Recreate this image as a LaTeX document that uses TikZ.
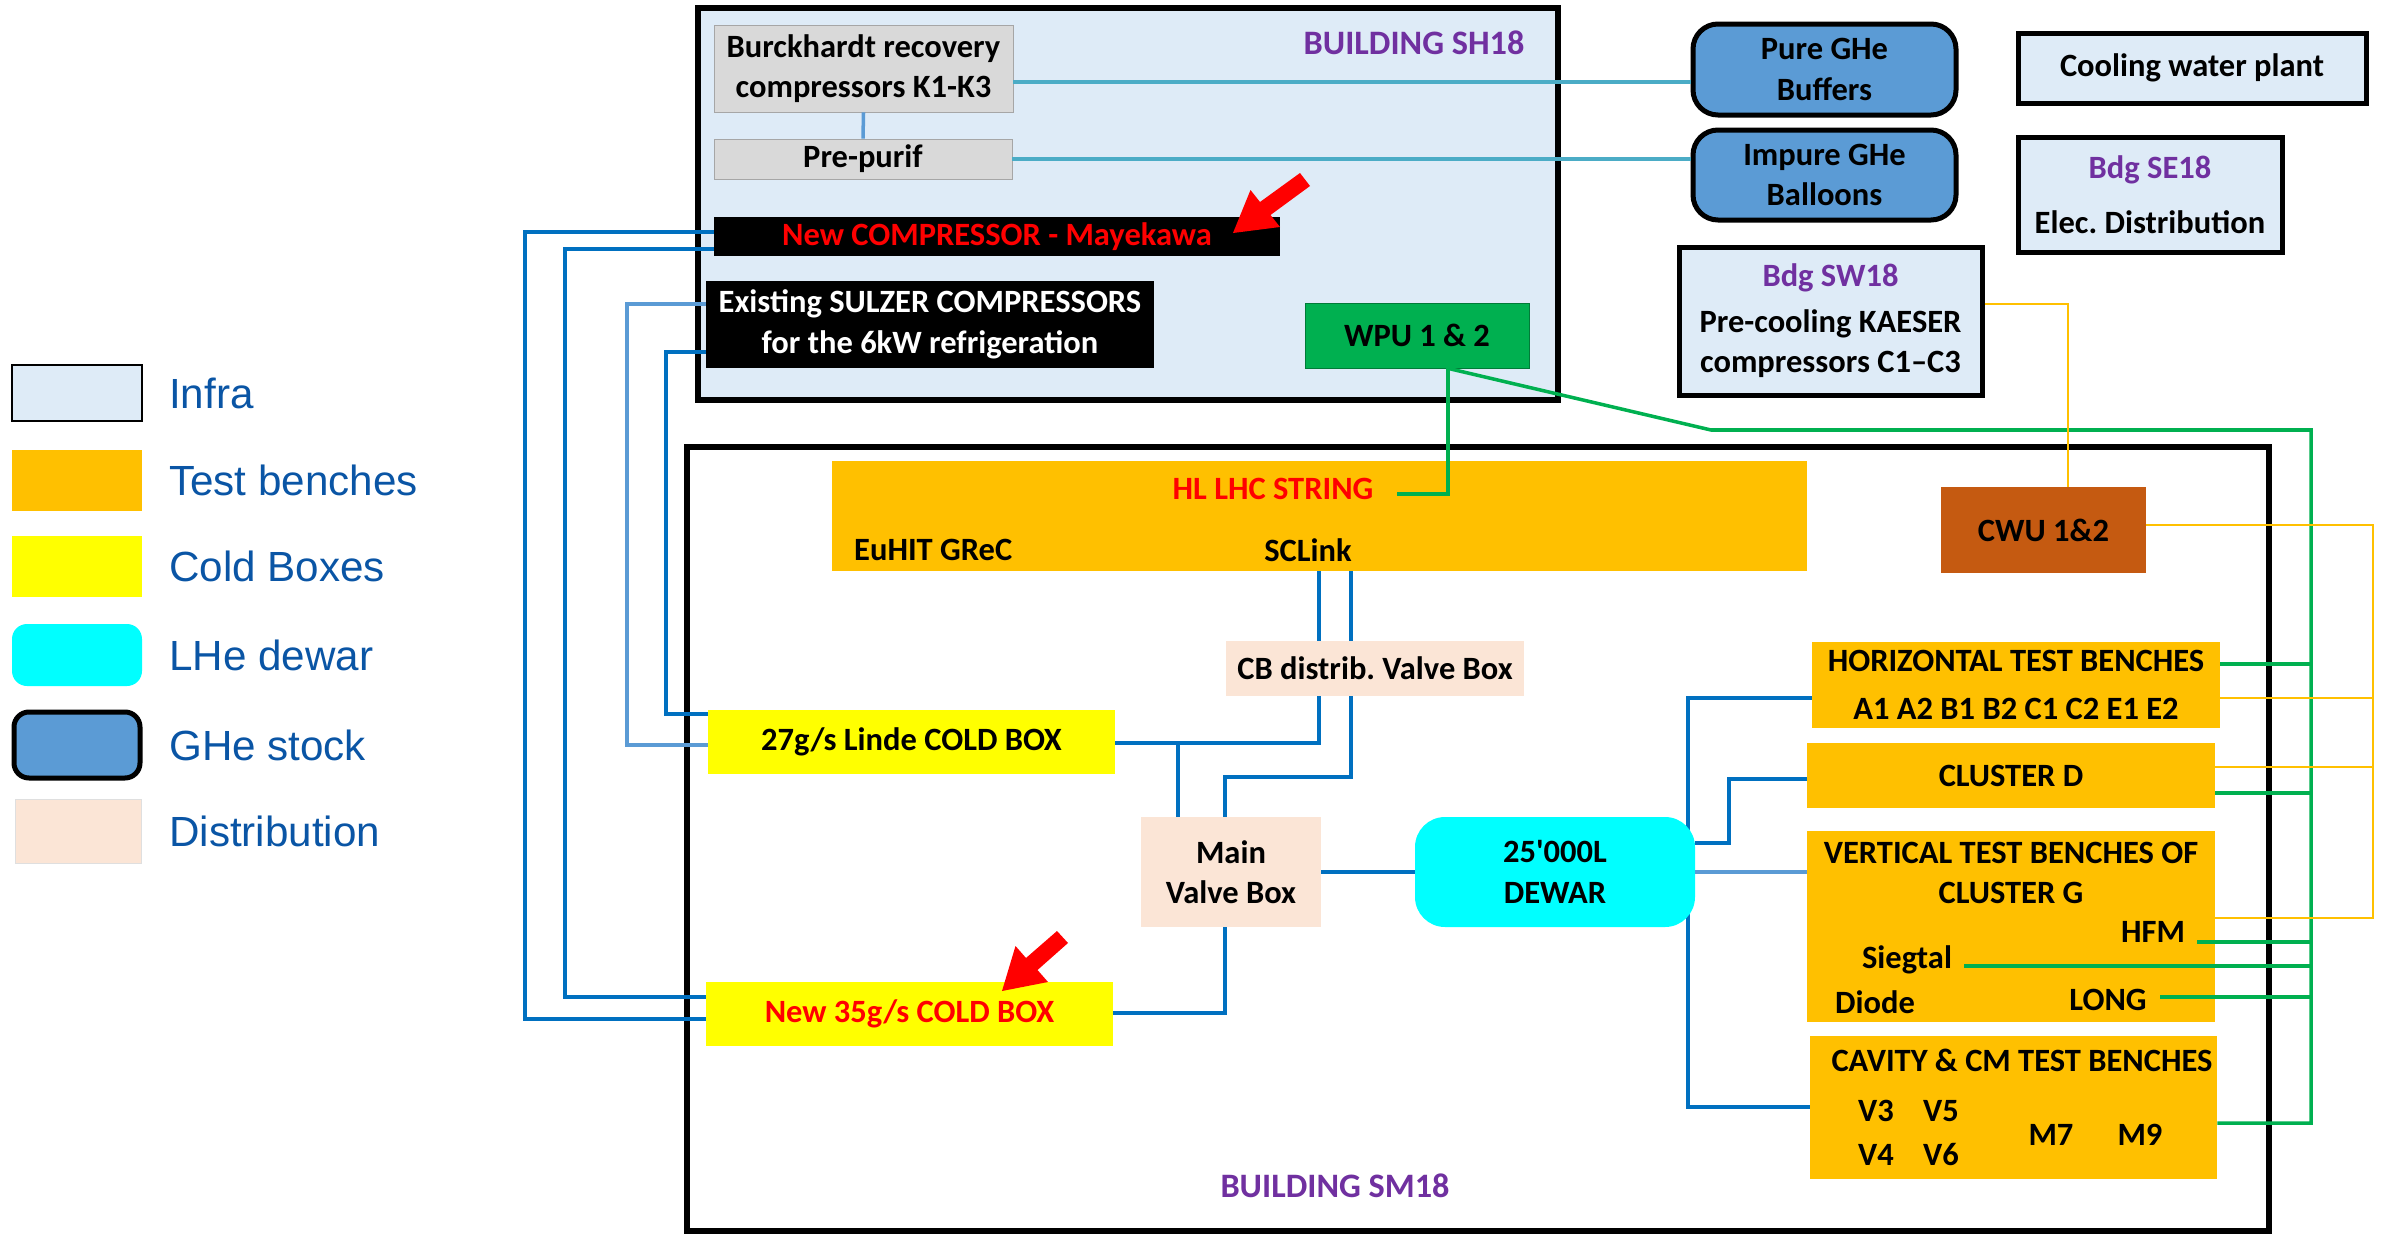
\documentclass[tikz,border=0pt]{standalone}
\usepackage{fontspec}
\setmainfont{Carlito}
\newfontfamily\legendfont{Liberation Sans}
\usetikzlibrary{calc}
\frenchspacing

\definecolor{infrablue}{RGB}{222,235,247}
\definecolor{benchorange}{RGB}{255,192,0}
\definecolor{cbyellow}{RGB}{255,255,0}
\definecolor{lhecyan}{RGB}{0,255,255}
\definecolor{gheblue}{RGB}{91,155,213}
\definecolor{distpeach}{RGB}{251,229,214}
\definecolor{bdgpurple}{RGB}{112,48,160}
\definecolor{wpugreen}{RGB}{0,176,80}
\definecolor{cwubrown}{RGB}{197,90,17}
\definecolor{pipeblue}{RGB}{0,112,192}
\definecolor{pipelight}{RGB}{91,155,213}
\definecolor{gasteal}{RGB}{75,172,198}
\definecolor{legblue}{RGB}{10,85,165}
\definecolor{boxgrey}{RGB}{217,217,217}

\begin{document}
\begin{tikzpicture}[x=0.2mm,y=-0.2mm,
  font=\bfseries\fontsize{18.5}{23}\selectfont,
  wh/.style 2 args={minimum width=#1*0.2mm,minimum height=#2*0.2mm,inner sep=0pt,align=center},
  bldg/.style={draw=black,line width=1.1mm},
  infrabox/.style={draw=black,line width=1mm,fill=infrablue},
  stock/.style={draw=black,line width=1mm,fill=gheblue,rounded corners=5mm},
  bldglbl/.style={text=bdgpurple,font=\bfseries\fontsize{19.5}{23}\selectfont},
  legtxt/.style={anchor=west,text=legblue,font=\legendfont\mdseries\fontsize{24}{28}\selectfont},
  pipe/.style={draw=pipeblue,line width=2pt},
  gasline/.style={draw=gasteal,line width=2pt},
  water/.style={draw=wpugreen,line width=2pt},
  cool/.style={draw=benchorange,line width=1.5pt}]
\useasboundingbox (0,0) rectangle (2387,1234);

% legend
\node[wh={130}{56},fill=infrablue,draw=black,line width=0.6pt] (leginfra) at (77,393) {};
\node[wh={130}{61},fill=benchorange] (legbench) at (77,480.5) {};
\node[wh={130}{61},fill=cbyellow] (legcold) at (77,566.5) {};
\node[wh={130}{62},fill=lhecyan,rounded corners=3mm] (leglhe) at (77,655) {};
\node[wh={126}{66},stock,rounded corners=3mm] (legghe) at (77,745) {};
\node[wh={126}{64},fill=distpeach,draw=gray!25] (legdist) at (78,831) {};
\node[legtxt] (tinfra) at (163,393) {Infra};
\node[legtxt] (tbench) at (163,480.5) {Test benches};
\node[legtxt] (tcold) at (163,566.5) {Cold Boxes};
\node[legtxt] (tlhe) at (163,655) {LHe dewar};
\node[legtxt] (tghe) at (163,745) {GHe stock};
\node[legtxt] (tdist) at (163,831) {Distribution};

% buildings
\node[wh={860}{392},bldg,fill=infrablue] (sh18) at (1128,204) {};
\node[wh={1582}{784},bldg,fill=white] (sm18) at (1478,839) {};
\node[bldglbl] (lblsh18) at (1414,43) {BUILDING SH18};
\node[bldglbl] (lblsm18) at (1335,1186) {BUILDING SM18};

% SH18 content
\node[wh={299}{87},fill=boxgrey,draw=gray!70] (burck) at (863.5,68.5) {Burckhardt recovery\\compressors K1-K3};
\node[wh={298}{40},fill=boxgrey,draw=gray!70] (prepurif) at (863,159) {Pre-purif};
\node[wh={566}{39},fill=black,text=red] (newcomp) at (997,236.5) {New COMPRESSOR - Mayekawa};
\node[wh={448}{87},fill=black,text=white] (sulzer) at (930,324.5) {Existing SULZER COMPRESSORS\\for the 6kW refrigeration};
\node[wh={224}{65},fill=wpugreen,draw=wpugreen!70!black] (wpu) at (1417,335.5) {WPU 1 \& 2};

% outside
\node[wh={263}{91},stock] (pure) at (1824.5,69.5) {Pure GHe\\Buffers};
\node[wh={263}{90},stock] (impure) at (1824.5,175) {Impure GHe\\Balloons};
\node[wh={348}{70},infrabox] (cwp) at (2192,68) {Cooling water plant};
\node[wh={264}{115},infrabox] (se18) at (2150,194.5) {\textcolor{bdgpurple}{Bdg SE18}\\[3mm]Elec. Distribution};
\node[wh={303}{148},infrabox] (sw18) at (1830.5,321) {\textcolor{bdgpurple}{Bdg SW18}\\[1mm]Pre-cooling KAESER\\compressors C1--C3};

% SM18 content
\node[wh={975}{110},fill=benchorange] (hllhc) at (1319.5,516) {};
\node[text=red] (hltxt) at (1273,489) {HL LHC STRING};
\node[anchor=west] (euhit) at (848,550) {EuHIT GReC};
\node (sclink) at (1308,550) {SCLink};
\node[wh={298}{55},fill=distpeach] (cbvb) at (1375,668.5) {CB distrib. Valve Box};
\node[wh={407}{64},fill=cbyellow] (linde) at (911.5,742) {27g/s Linde COLD BOX};
\node[wh={407}{64},fill=cbyellow,text=red] (newcb) at (909.5,1014) {New 35g/s COLD BOX};
\node[wh={180}{110},fill=distpeach] (mainvb) at (1231,872) {Main\\Valve Box};
\node[wh={205}{86},fill=cwubrown] (cwu) at (2043.5,530) {CWU 1\&2};
\node[wh={408}{86},fill=benchorange] (htb) at (2016,685) {HORIZONTAL TEST BENCHES\\[1.5mm]A1 A2 B1 B2 C1 C2 E1 E2};
\node[wh={408}{65},fill=benchorange] (clud) at (2011,775.5) {CLUSTER D};
\node[wh={408}{191},fill=benchorange] (vtb) at (2011,926.5) {};
\node[align=center] (vtbtxt) at (2011,873) {VERTICAL TEST BENCHES OF\\CLUSTER G};
\node (hfm) at (2153,932) {HFM};
\node (siegtal) at (1907,960) {Siegtal};
\node (diode) at (1875,1002) {Diode};
\node (long) at (2108,1000) {LONG};
\node[wh={407}{143},fill=benchorange] (cavity) at (2013.5,1107.5) {};
\node (cavtxt) at (2022,1060) {CAVITY \& CM TEST BENCHES};
\node (v3) at (1876,1111) {V3};
\node (v5) at (1941,1111) {V5};
\node (v4) at (1876,1155) {V4};
\node (v6) at (1941,1155) {V6};
\node (m7) at (2051,1135) {M7};
\node (m9) at (2140,1135) {M9};

% dewar line runs behind the dewar
\draw[pipe] (htb.west |- 0,698) -| (1688,1107) -- (cavity.west |- 0,1107);
\node[wh={280}{110},fill=lhecyan,rounded corners=6mm] (dewar) at (1555,872) {25\textquotesingle000L\\DEWAR};

% helium gas
\draw[gasline] (burck.east |- 0,82) -- (pure.west |- 0,82);
\draw[gasline] (prepurif.east) -- (impure.west |- prepurif.east);
\draw[pipe,draw=pipelight] (burck.south) -- (prepurif.north);

% compressors to cold boxes
\draw[pipe] (newcomp.west |- 0,232) -| (525,1019) -- (newcb.west |- 0,1019);
\draw[pipe] (newcomp.west |- 0,249) -| (565,997) -- (newcb.west |- 0,997);
\draw[pipe,draw=pipelight] (sulzer.west |- 0,304) -| (627,745) -- (linde.west |- 0,745);
\draw[pipe] (sulzer.west |- 0,352) -| (666,714) -- (linde.west |- 0,714);

% distribution
\draw[pipe] (hllhc.south -| 1319,0) -- (cbvb.north -| 1319,0);
\draw[pipe] (hllhc.south -| 1351,0) -- (cbvb.north -| 1351,0);
\draw[pipe] (cbvb.south -| 1319,0) |- (linde.east |- 0,743);
\coordinate (tee) at (1178,743);
\draw[pipe] (tee) -- (mainvb.north -| tee);
\draw[pipe] (cbvb.south -| 1351,0) |- (1225,777) -- (mainvb.north -| 1225,0);
\draw[pipe] (newcb.east |- 0,1013) -| (mainvb.south -| 1225,0);
\draw[pipe] (mainvb.east) -- (dewar.west);
\draw[pipe] (dewar.east |- 0,843) -| (1729,779) -- (clud.west |- 0,779);
\draw[pipe,draw=pipelight] (dewar.east) -- (vtb.west |- dewar.east);

% cooling water
\coordinate (hlin) at (1397,494);
\draw[water] (wpu.south -| 1448,0) |- (hlin);
\draw[water] (wpu.south -| 1448,0) -- (1711,430) -| (2311,1123) -- (cavity.east |- 0,1123);
\draw[water] (htb.east |- 0,664) -- (2311,664);
\draw[water] (clud.east |- 0,793) -- (2311,793);
\draw[water] (2197,942) -- (2311,942);
\draw[water] (1964,966) -- (2311,966);
\draw[water] (2160,997) -- (2311,997);
\draw[cool] (sw18.east |- 0,304) -| (cwu.north -| 2068,0);
\draw[cool] (cwu.east |- 0,525) -| (2373,918) -- (vtb.east |- 0,918);
\draw[cool,line width=0.8pt] (htb.east |- 0,698) -- (2373,698);
\draw[cool] (clud.east |- 0,767) -- (2373,767);

% red arrows
\fill[red] (1233,233) -- (1280,227) -- (1270.5,215) -- (1310,186) -- (1300,173) -- (1260,202) -- (1250.5,190) -- cycle;
\fill[red] (1002,991) -- (1048,982) -- (1037.5,970) -- (1068,943) -- (1057,931) -- (1026,958) -- (1015.5,946) -- cycle;
\end{tikzpicture}
\end{document}
